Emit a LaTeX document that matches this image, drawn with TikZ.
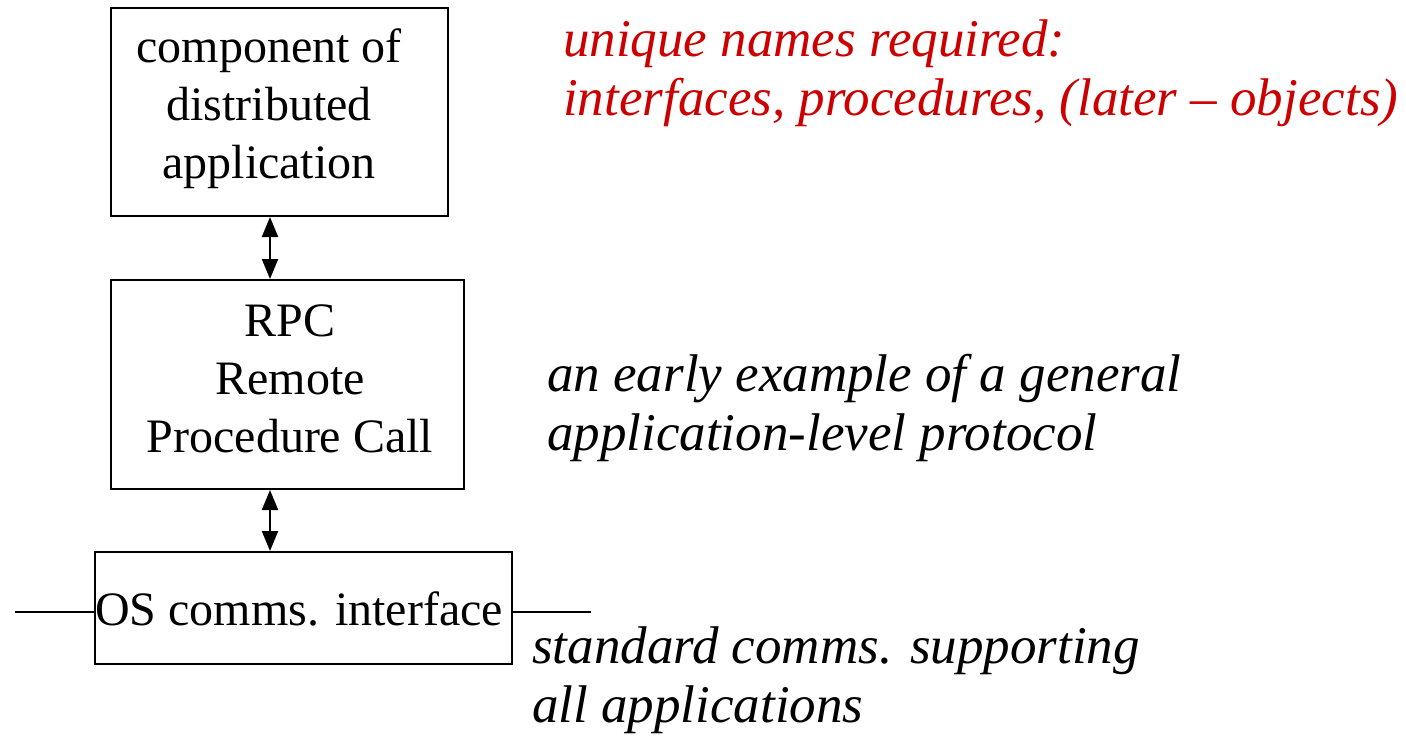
\documentclass[tikz,border=0pt]{standalone}
\usepackage{fontspec}
\setmainfont{Liberation Serif}
\usetikzlibrary{arrows.meta}
\definecolor{notered}{RGB}{204,0,0}
\begin{document}
\begin{tikzpicture}[x=1pt,y=1pt,
  every node/.style={font=\fontsize{48}{58}\selectfont},
  box/.style={draw, line width=2pt, inner sep=0pt},
  boxtext/.style={align=center, inner sep=0pt, anchor=base},
  note/.style={align=left, inner sep=0pt, anchor=base west, font=\fontsize{53}{59}\selectfont\itshape},
  link/.style={line width=2pt, {Triangle[width=16pt,length=20pt]}-{Triangle[width=16pt,length=20pt]}},
  wire/.style={line width=2.5pt}]
\useasboundingbox (0,0) rectangle (1406,-736);

% the three layers
\node[box, minimum width=337, minimum height=208] (app) at (279.5,-112) {};
\node[boxtext] (apptxt) at (269,-178) {component of\\distributed\\application};

\node[box, minimum width=353, minimum height=209] (rpc) at (287.5,-384.5) {};
\node[boxtext] (rpctxt) at (290,-452) {RPC\\Remote\\Procedure Call};

\node[box, minimum width=417, minimum height=112] (os) at (303.5,-608) {};
\node[boxtext] (ostxt) at (299,-625) {OS comms. interface};

% network attachment on both sides
\coordinate (wl) at (15,-612);
\coordinate (wr) at (591,-612);
\draw[wire] (wl) -- (wl -| os.west);
\draw[wire] (os.east |- wr) -- (wr);

% calls between layers
\draw[link] (app.south -| 270,0) -- (rpc.north -| 270,0);
\draw[link] (rpc.south -| 270,0) -- (os.north -| 270,0);

% annotations
\node[note, text=notered] (names) at (563,-115) {unique names required:\\interfaces, procedures, (later -- objects)};
\node[note] (early) at (547,-450) {an early example of a general\\application-level protocol};
\node[note] (std) at (532,-722) {standard comms. supporting\\all applications};
\end{tikzpicture}
\end{document}
